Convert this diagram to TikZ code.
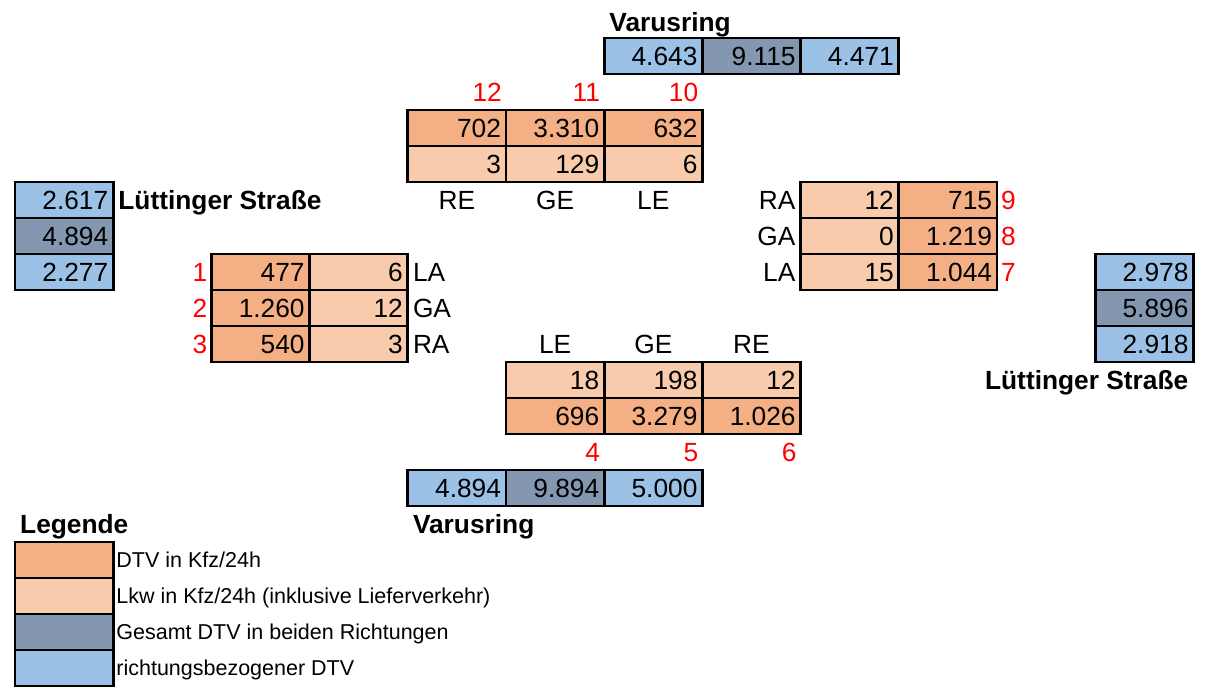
\documentclass[tikz,border=0pt]{standalone}
\usepackage{fontspec}
\setmainfont{Liberation Sans}
\definecolor{dtvorange}{HTML}{F4B084}
\definecolor{lkworange}{HTML}{F8CBAD}
\definecolor{gesgray}{HTML}{8497B0}
\definecolor{richtblue}{HTML}{9BC2E6}
\tikzset{
  zelle/.style={draw, line width=2.8pt, minimum width=98.2pt, minimum height=36pt,
    inner xsep=5pt, inner ysep=0pt, text width=88.2pt, align=right,
    text height=19pt, text depth=0pt},
  dtv/.style={zelle, fill=dtvorange},
  lkw/.style={zelle, fill=lkworange},
  ges/.style={zelle, fill=gesgray},
  rdtv/.style={zelle, fill=richtblue},
  txt/.style={inner xsep=5pt, inner ysep=0pt, text height=19pt, text depth=0pt},
  strom/.style={txt, text=red, inner xsep=4pt},
  strasse/.style={txt, font=\bfseries},
  legtxt/.style={inner xsep=3pt, inner ysep=0pt, text height=15pt, text depth=0pt,
    font=\fontsize{21.5}{25}\selectfont},
}
\begin{document}
\fontsize{26.3}{30}\selectfont
\begin{tikzpicture}[x=98.2pt, y=-36pt]
  \useasboundingbox (-0.1527,-0.0556) rectangle (12.1487,19.111);
  % Varusring oben
  \node[strasse, anchor=west] (vnname) at (6,0.56) {Varusring};
  \node[rdtv] (vn1) at (6.5,1.5) {4.643};
  \node[ges] (vn2) at (7.5,1.5) {9.115};
  \node[rdtv] (vn3) at (8.5,1.5) {4.471};
  \node[strom, anchor=east] (s12) at (5,2.5) {12};
  \node[strom, anchor=east] (s11) at (6,2.5) {11};
  \node[strom, anchor=east] (s10) at (7,2.5) {10};
  \node[dtv] (n12) at (4.5,3.5) {702};
  \node[dtv] (n11) at (5.5,3.5) {3.310};
  \node[dtv] (n10) at (6.5,3.5) {632};
  \node[lkw] (l12) at (4.5,4.5) {3};
  \node[lkw] (l11) at (5.5,4.5) {129};
  \node[lkw] (l10) at (6.5,4.5) {6};
  \node[txt] (nre) at (4.5,5.5) {RE};
  \node[txt] (nge) at (5.5,5.5) {GE};
  \node[txt] (nle) at (6.5,5.5) {LE};
  % Luettinger Strasse links
  \node[rdtv] (lw1) at (0.5,5.5) {2.617};
  \node[ges] (lw2) at (0.5,6.5) {4.894};
  \node[rdtv] (lw3) at (0.5,7.5) {2.277};
  \node[strasse, anchor=west] (lwname) at (1,5.5) {Lüttinger Straße};
  \node[strom, anchor=east] (s1) at (2,7.5) {1};
  \node[strom, anchor=east] (s2) at (2,8.5) {2};
  \node[strom, anchor=east] (s3) at (2,9.5) {3};
  \node[dtv] (n1) at (2.5,7.5) {477};
  \node[dtv] (n2) at (2.5,8.5) {1.260};
  \node[dtv] (n3) at (2.5,9.5) {540};
  \node[lkw] (l1) at (3.5,7.5) {6};
  \node[lkw] (l2) at (3.5,8.5) {12};
  \node[lkw] (l3) at (3.5,9.5) {3};
  \node[txt, anchor=west] (wla) at (4,7.5) {LA};
  \node[txt, anchor=west] (wga) at (4,8.5) {GA};
  \node[txt, anchor=west] (wra) at (4,9.5) {RA};
  % Luettinger Strasse rechts
  \node[txt, anchor=east] (ora) at (8,5.5) {RA};
  \node[txt, anchor=east] (oga) at (8,6.5) {GA};
  \node[txt, anchor=east] (ola) at (8,7.5) {LA};
  \node[lkw] (l9) at (8.5,5.5) {12};
  \node[lkw] (l8) at (8.5,6.5) {0};
  \node[lkw] (l7) at (8.5,7.5) {15};
  \node[dtv] (n9) at (9.5,5.5) {715};
  \node[dtv] (n8) at (9.5,6.5) {1.219};
  \node[dtv] (n7) at (9.5,7.5) {1.044};
  \node[strom, anchor=west] (s9) at (10,5.5) {9};
  \node[strom, anchor=west] (s8) at (10,6.5) {8};
  \node[strom, anchor=west] (s7) at (10,7.5) {7};
  \node[rdtv] (ow1) at (11.5,7.5) {2.978};
  \node[ges] (ow2) at (11.5,8.5) {5.896};
  \node[rdtv] (ow3) at (11.5,9.5) {2.918};
  \node[strasse, anchor=east] (owname) at (12,10.5) {Lüttinger Straße};
  % Varusring unten
  \node[txt] (sle) at (5.5,9.5) {LE};
  \node[txt] (sge) at (6.5,9.5) {GE};
  \node[txt] (sre) at (7.5,9.5) {RE};
  \node[lkw] (l4) at (5.5,10.5) {18};
  \node[lkw] (l5) at (6.5,10.5) {198};
  \node[lkw] (l6) at (7.5,10.5) {12};
  \node[dtv] (n4) at (5.5,11.5) {696};
  \node[dtv] (n5) at (6.5,11.5) {3.279};
  \node[dtv] (n6) at (7.5,11.5) {1.026};
  \node[strom, anchor=east] (s4) at (6,12.5) {4};
  \node[strom, anchor=east] (s5) at (7,12.5) {5};
  \node[strom, anchor=east] (s6) at (8,12.5) {6};
  \node[rdtv] (vs1) at (4.5,13.5) {4.894};
  \node[ges] (vs2) at (5.5,13.5) {9.894};
  \node[rdtv] (vs3) at (6.5,13.5) {5.000};
  \node[strasse, anchor=west] (vsname) at (4,14.5) {Varusring};
  % Legende
  \node[strasse, anchor=west] (leg) at (0,14.5) {Legende};
  \node[dtv] (leg1) at (0.5,15.5) {};
  \node[lkw] (leg2) at (0.5,16.5) {};
  \node[ges] (leg3) at (0.5,17.5) {};
  \node[rdtv] (leg4) at (0.5,18.5) {};
  \node[legtxt, anchor=west] (legt1) at (1,15.5) {DTV in Kfz/24h};
  \node[legtxt, anchor=west] (legt2) at (1,16.5) {Lkw in Kfz/24h (inklusive Lieferverkehr)};
  \node[legtxt, anchor=west] (legt3) at (1,17.5) {Gesamt DTV in beiden Richtungen};
  \node[legtxt, anchor=west] (legt4) at (1,18.5) {richtungsbezogener DTV};
\end{tikzpicture}
\end{document}
